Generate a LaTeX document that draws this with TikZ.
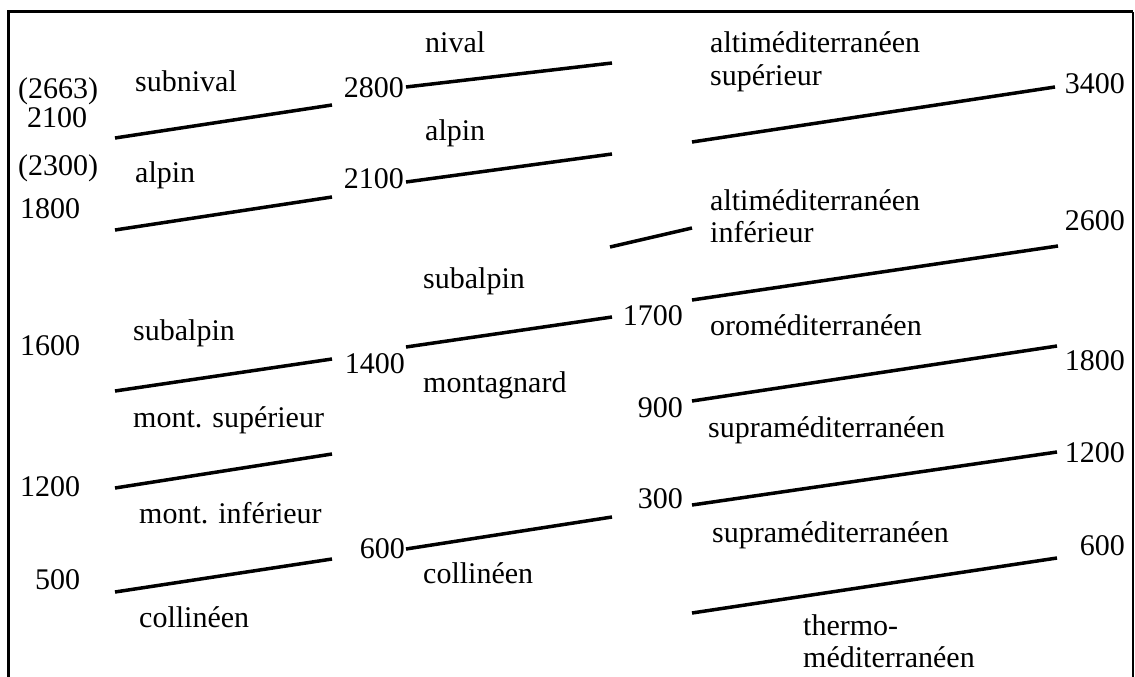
\documentclass[tikz,border=0pt]{standalone}
\usepackage{fontspec}
\setmainfont{Liberation Serif}
\usetikzlibrary{positioning}

\begin{document}
\begin{tikzpicture}[x=1pt, y=-1pt, font=\fontsize{30}{33}\selectfont,
    lbl/.style={anchor=base west, inner sep=0pt},
    rlbl/.style={anchor=base east, inner sep=0pt},
    limit/.style={line width=3.5pt}]
    \useasboundingbox (0,0) rectangle (1135,677);
    % frame
    \draw[line width=3pt] (8,677) -- (8,12) -- (1133,12);
    \draw[line width=1.2pt] (1133,12) -- (1133,677);

    % left column
    \node[lbl] (a663) at (18,98) {(2663)};
    \node[lbl] (a2100) at (27,127) {2100};
    \node[lbl] (a2300) at (18,175) {(2300)};
    \node[lbl] (a1800) at (20,218) {1800};
    \node[lbl] (a1600) at (20,355) {1600};
    \node[lbl] (a1200) at (20,496) {1200};
    \node[lbl] (a500) at (35,589) {500};
    \node[lbl] (asubniv) at (135,92) {subnival};
    \node[lbl] (aalpin) at (135,182) {alpin};
    \node[lbl] (asubalp) at (133,340) {subalpin};
    \node[lbl] (amsup) at (133,427) {mont. supérieur};
    \node[lbl] (aminf) at (139,523) {mont. inférieur};
    \node[lbl] (acoll) at (139,627) {collinéen};
    \coordinate (a1l) at (115,138); \coordinate (a1r) at (332,105);
    \coordinate (a2l) at (115,230); \coordinate (a2r) at (332,197);
    \coordinate (a3l) at (115,391); \coordinate (a3r) at (332,359);
    \coordinate (a4l) at (115,488); \coordinate (a4r) at (332,454);
    \coordinate (a5l) at (115,592); \coordinate (a5r) at (332,559);
    \draw[limit] (a1l) -- (a1r);
    \draw[limit] (a2l) -- (a2r);
    \draw[limit] (a3l) -- (a3r);
    \draw[limit] (a4l) -- (a4r);
    \draw[limit] (a5l) -- (a5r);

    % middle column
    \node[rlbl] (b2800) at (404,97) {2800};
    \node[rlbl] (b2100) at (404,188) {2100};
    \node[rlbl] (b1400) at (405,373) {1400};
    \node[rlbl] (b600) at (405,558) {600};
    \node[rlbl] (b1700) at (683,325) {1700};
    \node[rlbl] (b900) at (683,417) {900};
    \node[rlbl] (b300) at (683,508) {300};
    \node[lbl] (bnival) at (425,53) {nival};
    \node[lbl] (balpin) at (425,140) {alpin};
    \node[lbl] (bsubalp) at (423,288) {subalpin};
    \node[lbl] (bmont) at (423,392) {montagnard};
    \node[lbl] (bcoll) at (423,583) {collinéen};
    \coordinate (b1l) at (406,87);  \coordinate (b1r) at (612,63);
    \coordinate (b2l) at (406,182); \coordinate (b2r) at (612,154);
    \coordinate (b3l) at (610,247); \coordinate (b3r) at (692,228);
    \coordinate (b4l) at (406,347); \coordinate (b4r) at (612,317);
    \coordinate (b5l) at (406,549); \coordinate (b5r) at (612,517);
    \draw[limit] (b1l) -- (b1r);
    \draw[limit] (b2l) -- (b2r);
    \draw[limit] (b3l) -- (b3r);
    \draw[limit] (b4l) -- (b4r);
    \draw[limit] (b5l) -- (b5r);

    % right column
    \node[rlbl] (c3400) at (1125,93) {3400};
    \node[rlbl] (c2600) at (1125,230) {2600};
    \node[rlbl] (c1800) at (1125,370) {1800};
    \node[rlbl] (c1200) at (1125,462) {1200};
    \node[rlbl] (c600) at (1125,555) {600};
    \node[lbl] (caltsup) at (710,53) {altiméditerranéen};
    \node[lbl] (csup) at (710,85) {supérieur};
    \node[lbl] (caltinf) at (710,210) {altiméditerranéen};
    \node[lbl] (cinf) at (710,242) {inférieur};
    \node[lbl] (coro) at (710,335) {oroméditerranéen};
    \node[lbl] (csupra) at (708,437) {supraméditerranéen};
    \node[lbl] (csuprb) at (712,542) {supraméditerranéen};
    \node[lbl] (cthermo) at (803,635) {thermo-};
    \node[lbl] (cmedit) at (803,667) {méditerranéen};
    \coordinate (c1l) at (692,142); \coordinate (c1r) at (1055,87);
    \coordinate (c2l) at (692,300); \coordinate (c2r) at (1058,246);
    \coordinate (c3l) at (692,401); \coordinate (c3r) at (1057,346);
    \coordinate (c4l) at (692,505); \coordinate (c4r) at (1057,452);
    \coordinate (c5l) at (692,613); \coordinate (c5r) at (1057,558);
    \draw[limit] (c1l) -- (c1r);
    \draw[limit] (c2l) -- (c2r);
    \draw[limit] (c3l) -- (c3r);
    \draw[limit] (c4l) -- (c4r);
    \draw[limit] (c5l) -- (c5r);
\end{tikzpicture}
\end{document}
